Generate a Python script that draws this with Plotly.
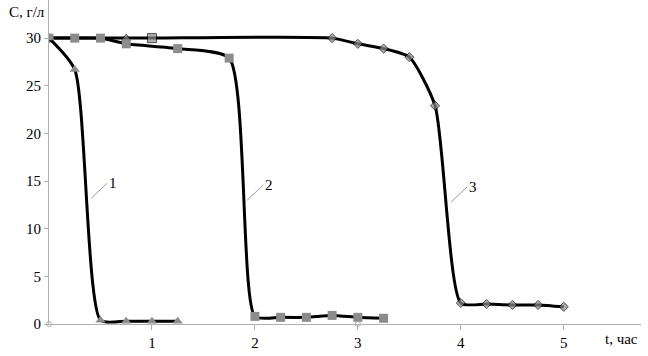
import plotly.graph_objects as go

# Curve 1 (triangles)
t1 = [0, 0.25, 0.5, 0.75, 1.0, 1.25]
c1 = [30, 26.7, 0.4, 0.3, 0.3, 0.3]

# Curve 2 (squares)
t2 = [0, 0.25, 0.5, 0.75, 1.25, 1.75, 2.0, 2.25, 2.5, 2.75, 3.0, 3.25]
c2 = [30, 30, 30, 29.4, 28.9, 27.9, 0.8, 0.7, 0.7, 0.9, 0.7, 0.6]

# Curve 3 (diamonds)
t3 = [0, 0.75, 1.0, 2.75, 3.0, 3.25, 3.5, 3.75, 4.0, 4.25, 4.5, 4.75, 5.0]
c3 = [30, 30, 30, 30, 29.4, 28.9, 28.0, 22.9, 2.2, 2.1, 2.0, 2.0, 1.8]

# small open markers on the axis
t0 = [0, 3]
c0 = [0, 0]

x_ticks = [1, 2, 3, 4, 5]
y_ticks = [0, 5, 10, 15, 20, 25, 30]

curve_labels = ["1", "2", "3"]
label_pos_t = [0.41, 1.925, 3.905]
label_pos_c = [13.2, 13.0, 12.8]

GRAY = "#8c8c8c"
FONT = "Liberation Serif, Times New Roman, DejaVu Serif, serif"
SMOOTH = 0.6

fig = go.Figure()

sym3 = ["diamond"] * len(t3)
sym3[1] = "triangle-up"
sym3[2] = "square"
size3 = [7] * len(t3)
size3[1] = 8
size3[2] = 9

fig.add_trace(go.Scatter(
    x=t3, y=c3, mode="lines+markers",
    line=dict(color="black", width=3, shape="spline", smoothing=SMOOTH),
    marker=dict(symbol=sym3, size=size3, color=GRAY),
    showlegend=False))
fig.add_trace(go.Scatter(
    x=t2, y=c2, mode="lines+markers",
    line=dict(color="black", width=3, shape="spline", smoothing=SMOOTH),
    marker=dict(symbol="square", size=9, color=GRAY),
    showlegend=False))
fig.add_trace(go.Scatter(
    x=t1, y=c1, mode="lines+markers",
    line=dict(color="black", width=3, shape="spline", smoothing=SMOOTH),
    marker=dict(symbol="triangle-up", size=9, color=GRAY),
    showlegend=False))
fig.add_trace(go.Scatter(
    x=t0, y=c0, mode="markers",
    marker=dict(symbol="circle-open", size=5, color="#b0b0b0", line=dict(width=1)),
    showlegend=False, cliponaxis=False))

for lab, xx, yy in zip(curve_labels, label_pos_t, label_pos_c):
    fig.add_annotation(x=xx, y=yy, text=lab, showarrow=True, arrowhead=0,
                       arrowwidth=1, arrowcolor="#9a9a9a", ax=16, ay=-15,
                       standoff=0, font=dict(family=FONT, size=15, color="black"),
                       xanchor="left", yanchor="middle")

fig.add_annotation(xref="paper", yref="paper", x=0, y=(324 - 12) / 324,
                   xshift=-42, text="С, г/л", showarrow=False,
                   xanchor="left", yanchor="middle",
                   font=dict(family=FONT, size=15, color="black"))
fig.add_annotation(xref="paper", yref="paper", x=(640 - 49) / 592, y=-15 / 324,
                   text="t, час", showarrow=False, xanchor="right", yanchor="middle",
                   font=dict(family=FONT, size=15, color="black"))

fig.update_xaxes(range=[0, 5.75], tickvals=x_ticks, ticks="outside", ticklen=5,
                 tickcolor="#b0b0b0", showline=True, linecolor="#b0b0b0", linewidth=1,
                 showgrid=False, zeroline=False, automargin=False,
                 tickfont=dict(family=FONT, size=15, color="black"))
fig.update_yaxes(range=[0, 34], tickvals=y_ticks, ticks="outside", ticklen=4,
                 tickcolor="#b0b0b0", showline=True, linecolor="#b0b0b0", linewidth=1,
                 showgrid=False, zeroline=False, automargin=False,
                 tickfont=dict(family=FONT, size=15, color="black"))

fig.update_layout(width=648, height=356, margin=dict(l=49, r=7, t=0, b=32),
                  plot_bgcolor="white", paper_bgcolor="white")

fig.write_html("out.html", config={"displayModeBar": False},
               post_script="document.body.style.margin='0';document.body.style.overflow='hidden';")
